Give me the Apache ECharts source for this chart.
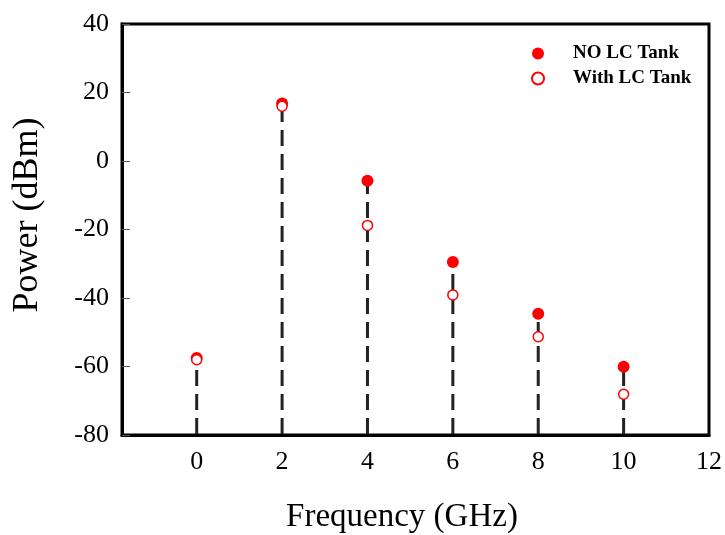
<!DOCTYPE html>
<html>
<head>
<meta charset="utf-8">
<script src="https://cdn.jsdelivr.net/npm/echarts@6/dist/echarts.min.js"></script>
<style>html,body{margin:0;padding:0;background:#fff}#c{width:725px;height:535px}</style>
</head>
<body>
<div id="c"></div>
<script>
var frequency = [0, 2, 4, 6, 8, 10];
var noLCTank = [-57.5, 16.8, -5.8, -29.5, -44.6, -60.1];
var withLCTank = [-58, 16, -18.8, -39.1, -51.3, -68.1];
var xTicks = [0, 2, 4, 6, 8, 10, 12];
var seriesNames = ['NO LC Tank', 'With LC Tank'];

var FONT = '"Liberation Serif", "Times New Roman", serif';
var chart = echarts.init(document.getElementById('c'), null, {renderer: 'canvas'});

var stemData = frequency.map(function (f, i) { return [f, Math.max(noLCTank[i], withLCTank[i])]; });

chart.setOption({
  animation: false,
  backgroundColor: '#fff',
  grid: {left: 122, right: 14, top: 24, bottom: 100, show: true, borderColor: '#000', borderWidth: 3, backgroundColor: 'transparent'},
  legend: {
    orient: 'vertical', left: 531, top: 44, itemWidth: 12, itemHeight: 12, itemGap: 6, padding: 0,
    data: seriesNames,
    textStyle: {fontFamily: FONT, fontWeight: 'bold', fontSize: 19, color: '#000', padding: [0, 0, 0, 24]}
  },
  xAxis: {
    type: 'value', min: -1.75, max: 12,
    axisLine: {show: true, onZero: false, lineStyle: {color: '#000', width: 3}},
    axisTick: {show: false},
    splitLine: {show: false},
    axisLabel: {customValues: xTicks, fontFamily: FONT, fontSize: 26, color: '#000', margin: 14}
  },
  yAxis: {
    type: 'value', min: -80, max: 40, interval: 20,
    axisLine: {show: true, onZero: false, lineStyle: {color: '#000', width: 3}},
    axisTick: {show: true, inside: true, length: 8, lineStyle: {color: '#555', width: 1}},
    splitLine: {show: false},
    axisLabel: {fontFamily: FONT, fontSize: 26, color: '#000', margin: 13}
  },
  graphic: [
    {type: 'text', x: 402, y: 517, style: {text: 'Frequency (GHz)', font: '33px ' + FONT, fill: '#000', align: 'center', verticalAlign: 'middle'}},
    {type: 'text', x: 28, y: 215, rotation: Math.PI / 2, style: {text: 'Power (dBm)', font: '36px ' + FONT, fill: '#000', align: 'center', verticalAlign: 'middle'}}
  ],
  series: [
    {
      type: 'custom', name: 'stems', z: 1, silent: true,
      data: stemData,
      renderItem: function (params, api) {
        var x = api.value(0), y = api.value(1);
        var p0 = api.coord([x, -80]);
        var p1 = api.coord([x, y]);
        return {type: 'line', shape: {x1: p0[0], y1: p0[1] - 1, x2: p1[0], y2: p1[1]},
          style: {stroke: '#222', lineWidth: 3, lineDash: [16, 8]}};
      }
    },
    {
      type: 'scatter', name: seriesNames[0], z: 3, symbol: 'circle', symbolSize: 12,
      itemStyle: {color: '#ff0000', opacity: 1},
      data: frequency.map(function (f, i) { return [f, noLCTank[i]]; })
    },
    {
      type: 'scatter', name: seriesNames[1], z: 4, symbol: 'circle', symbolSize: 10,
      itemStyle: {color: '#fff', borderColor: '#ff0000', borderWidth: 1.5, opacity: 1},
      data: frequency.map(function (f, i) { return [f, withLCTank[i]]; })
    }
  ]
});
</script>
</body>
</html>
